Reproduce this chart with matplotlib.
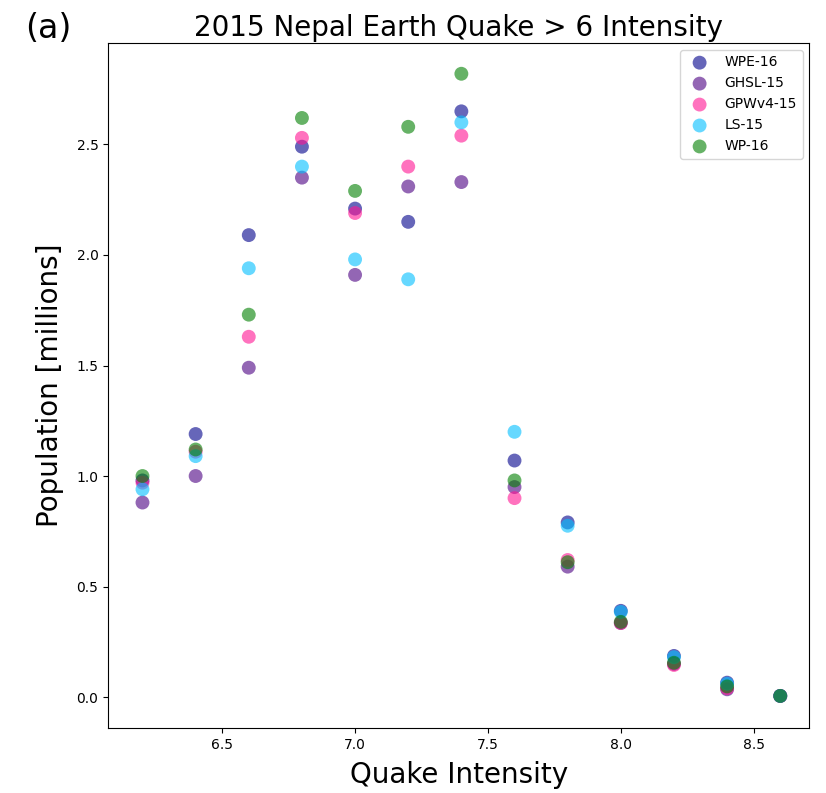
import numpy as np
import matplotlib
matplotlib.use('Agg')
import matplotlib.pyplot as plt

# Quake intensity bins
intensity = [6.2, 6.4, 6.6, 6.8, 7.0, 7.2, 7.4, 7.6, 7.8, 8.0, 8.2, 8.4, 8.6]

# Population in millions for each dataset
wpe16 = [0.98, 1.19, 2.09, 2.49, 2.21, 2.15, 2.65, 1.07, 0.79, 0.39, 0.186, 0.065, 0.005]
ghsl15 = [0.88, 1.00, 1.49, 2.35, 1.91, 2.31, 2.33, 0.95, 0.59, 0.335, 0.15, 0.035, 0.005]
gpwv415 = [0.97, 1.11, 1.63, 2.53, 2.19, 2.40, 2.54, 0.90, 0.62, 0.335, 0.145, 0.04, 0.005]
ls15 = [0.94, 1.09, 1.94, 2.40, 1.98, 1.89, 2.60, 1.20, 0.775, 0.385, 0.18, 0.06, 0.005]
wp16 = [1.00, 1.12, 1.73, 2.62, 2.29, 2.58, 2.82, 0.98, 0.61, 0.34, 0.155, 0.048, 0.005]

names = ['WPE-16', 'GHSL-15', 'GPWv4-15', 'LS-15', 'WP-16']
series = [wpe16, ghsl15, gpwv415, ls15, wp16]
colors = ['darkblue', 'indigo', 'deeppink', 'deepskyblue', 'green']

fig = plt.figure(figsize=(8.26, 7.93), dpi=100)
ax = fig.add_axes([0.131, 0.082, 0.849, 0.864])

for vals, name, c in zip(series, names, colors):
    ax.scatter(intensity, vals, s=100, color=c, alpha=0.6, label=name, edgecolors='none')

ax.set_xlim(6.071, 8.71)
ax.set_ylim(-0.14, 2.96)
ax.set_xticks([6.5, 7.0, 7.5, 8.0, 8.5])
ax.set_yticks([0.0, 0.5, 1.0, 1.5, 2.0, 2.5])
ax.tick_params(labelsize=10)

ax.set_xlabel('Quake Intensity', fontsize=20, labelpad=7)
ax.set_ylabel('Population [millions]', fontsize=20, labelpad=9)
ax.set_title('2015 Nepal Earth Quake > 6 Intensity', fontsize=20, pad=5)
fig.text(0.03, 0.952, '(a)', fontsize=24)

ax.legend(loc='upper right', fontsize=10)

fig.savefig('out.png', dpi=100)
